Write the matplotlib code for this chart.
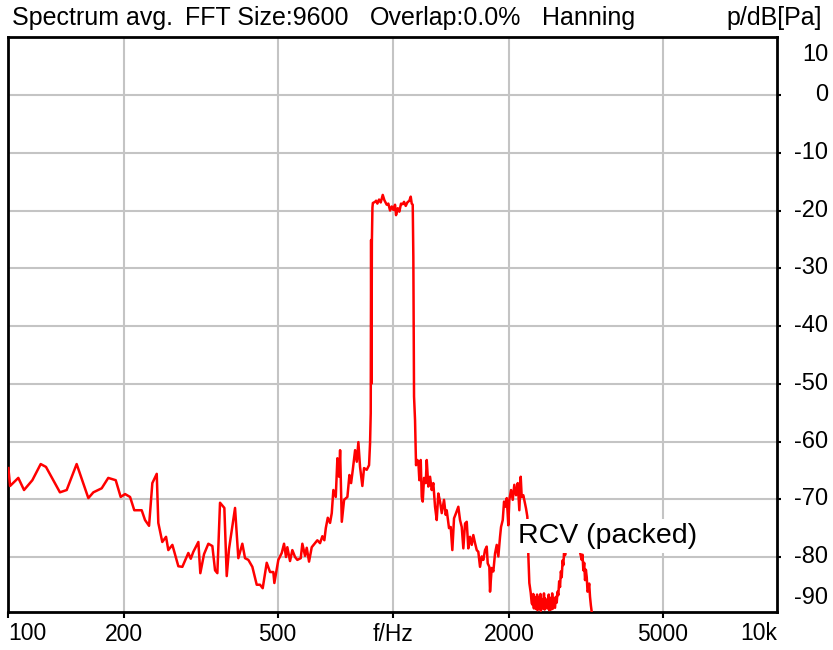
import matplotlib
matplotlib.use('Agg')
import matplotlib.pyplot as plt
import matplotlib.transforms as mtransforms

plt.rcParams['font.family'] = ['Liberation Sans', 'DejaVu Sans']

# Datos: espectro medido (Hz, dB)
freq = [100.0, 101.0, 106.1, 109.8, 115.4, 121.3, 125.2, 136.1, 141.7, 150.4, 161.3, 166.2,
        174.7, 181.7, 190.0, 195.7, 200.9, 207.0, 212.3, 221.9, 226.4, 231.9, 236.5, 242.8,
        245.1, 251.0, 256.7, 260.2, 266.6, 276.3, 283.0, 293.3, 297.6, 302.2, 311.4, 315.1,
        322.2, 330.6, 338.6, 344.1, 348.9, 354.5, 363.8, 369.0, 374.1, 387.8, 395.5, 405.1,
        411.7, 420.0, 430.1, 441.5, 450.3, 457.6, 468.7, 478.1, 487.6, 490.6, 502.4, 512.8,
        519.8, 526.0, 530.2, 538.8, 546.3, 555.2, 562.9, 574.4, 580.0, 589.4, 595.4, 603.7,
        613.5, 625.8, 634.4, 644.8, 653.7, 661.6, 667.3, 675.3, 684.5, 691.5, 698.2, 708.3,
        715.2, 722.5, 726.9, 734.3, 744.5, 759.3, 768.5, 776.3, 784.2, 795.1, 803.2, 810.8,
        819.0, 830.4, 838.8, 852.4, 864.3, 869.5, 873.0, 875.0, 877.0, 879.0, 882.0, 884.2,
        896.0, 901.3, 908.4, 917.6, 926.9, 938.1, 947.1, 960.7, 970.0, 979.9, 989.9, 999.4,
        1009.6, 1015.7, 1026.1, 1035.9, 1046.4, 1057.3, 1065.4, 1076.3, 1086.7, 1099.8, 1108.9,
        1115.6, 1122.3, 1126.4, 1131.1, 1137.9, 1144.7, 1153.7, 1160.6, 1167.6, 1177.3, 1184.4,
        1191.5, 1200.8, 1213.1, 1220.4, 1232.0, 1244.7, 1257.4, 1269.3, 1282.5, 1295.5, 1307.8,
        1321.3, 1335.0, 1353.2, 1367.0, 1375.2, 1394.3, 1408.5, 1422.2, 1436.7, 1454.0, 1474.2,
        1489.2, 1504.4, 1519.0, 1534.5, 1550.1, 1564.8, 1581.0, 1597.1, 1612.3, 1629.1, 1645.7,
        1661.3, 1678.2, 1695.7, 1711.8, 1729.2, 1746.8, 1757.3, 1774.4, 1781.8, 1799.9, 1817.4,
        1835.9, 1854.6, 1872.6, 1891.7, 1903.1, 1922.5, 1937.6, 1957.3, 1969.1, 1987.8, 1999.7,
        2020.5, 2041.0, 2060.4, 2081.4, 2103.1, 2123.0, 2140.7, 2153.5, 2174.4, 2196.6, 2209.8,
        2227.1, 2236.4, 2240.5, 2254.0, 2272.8, 2286.4, 2300.1, 2308.0, 2316.0, 2324.0, 2332.1,
        2344.0, 2355.9, 2361.0, 2367.0, 2373.0, 2378.7, 2391.0, 2403.0, 2409.0, 2415.0, 2421.0,
        2427.5, 2439.0, 2451.1, 2460.0, 2470.0, 2480.0, 2490.9, 2508.0, 2525.0, 2531.0, 2538.0,
        2544.0, 2551.3, 2564.0, 2577.3, 2584.0, 2590.0, 2596.0, 2601.7, 2615.0, 2628.2, 2640.0,
        2655.0, 2668.0, 2680.8, 2694.0, 2708.1, 2722.0, 2735.7, 2750.0, 2762.3, 2776.0, 2790.4,
        2818.9, 2875.2, 2927.3, 2980.4, 3034.4, 3083.7, 3098.0, 3113.0, 3129.0, 3145.1, 3161.0,
        3177.2, 3192.0, 3207.4, 3224.0, 3240.1, 3257.0, 3273.1, 3279.2]
nivel = [-64.6, -67.7, -66.3, -68.4, -66.7, -63.9, -64.4, -68.8, -68.4, -63.9, -69.8, -68.8,
         -68.1, -66.3, -66.7, -69.6, -69.1, -69.6, -71.9, -71.9, -73.6, -74.6, -67.2, -65.6,
         -74.1, -77.4, -76.5, -78.8, -77.9, -81.6, -81.7, -79.3, -80.3, -79.1, -77.4, -82.8,
         -79.5, -77.7, -78.1, -82.3, -82.8, -70.6, -71.5, -83.3, -78.6, -71.5, -80.2, -77.7,
         -80.2, -80.5, -81.7, -84.8, -84.8, -85.4, -81.0, -82.6, -82.6, -84.5, -80.5, -79.3,
         -77.7, -80.0, -78.3, -80.7, -78.8, -80.0, -80.5, -80.2, -77.7, -79.8, -78.4, -80.8,
         -78.3, -77.6, -77.1, -77.6, -76.4, -77.1, -75.0, -73.2, -74.1, -72.4, -68.4, -69.6,
         -62.9, -66.1, -61.5, -73.9, -70.1, -69.6, -65.8, -67.2, -64.9, -61.5, -63.5, -60.1,
         -64.4, -67.7, -64.6, -64.9, -64.1, -60.3, -55.1, -25.1, -50.0, -25.5, -19.5, -18.7,
         -18.5, -18.3, -18.8, -18.1, -18.6, -17.3, -18.2, -19.0, -18.8, -20.0, -19.3, -19.9,
         -19.0, -20.8, -19.6, -20.2, -18.8, -18.9, -18.5, -19.2, -18.6, -18.3, -17.6,
         -18.8, -19.0, -28.0, -52.2, -56.3, -64.1, -63.2, -63.5, -66.7, -63.2, -69.6,
         -70.4, -66.3, -67.2, -63.2, -67.8, -66.1, -68.4, -67.2, -71.3, -73.6, -69.0,
         -70.4, -72.4, -70.1, -72.7, -71.9, -75.0, -74.8, -78.8, -73.3, -72.4, -71.3,
         -73.6, -74.8, -78.5, -74.2, -73.9, -78.5, -76.5, -77.9, -76.2, -77.6, -78.8,
         -79.1, -81.7, -79.9, -80.5, -78.8, -78.2, -81.1, -81.7, -86.0, -81.9, -82.5,
         -79.4, -77.9, -79.9, -76.5, -74.8, -73.6, -70.4, -71.3, -69.8, -74.5, -70.1,
         -68.4, -70.1, -67.5, -69.3, -67.2, -71.9, -66.1, -69.6, -69.3, -70.7, -71.6,
         -73.0, -76.2, -79.7, -84.5, -86.2, -88.0, -88.3, -86.4, -88.9, -86.9, -87.1,
         -89.0, -88.8, -86.5, -89.2, -87.0, -87.8, -89.0, -88.7, -86.4, -89.3, -87.2,
         -87.5, -88.9, -88.8, -86.3, -89.1, -87.2, -87.8, -88.9, -88.7, -86.5, -89.2,
         -87.0, -87.5, -89.1, -88.7, -86.3, -89.0, -87.1, -87.8, -88.6, -88.8, -86.9,
         -87.9, -86.0, -86.6, -84.2, -85.2, -82.5, -83.5, -80.6, -81.4, -78.8, -79.7,
         -78.3, -77.9, -78.6, -77.7, -78.4, -80.5, -79.6, -82.3, -81.0, -84.0, -82.2,
         -83.5, -86.0, -85.7, -84.6, -86.9, -88.4, -89.5, -91.8]

xticks = [100, 200, 500, 1000, 2000, 5000, 10000]
xlabels = ['100', '200', '500', 'f/Hz', '2000', '5000', '10k']
yticks = [10, 0, -10, -20, -30, -40, -50, -60, -70, -80, -90]

titulo = ['Spectrum avg.', 'FFT Size:9600', 'Overlap:0.0%', 'Hanning']
titulo_x = [12, 185, 370, 542]

W, H = 833, 650
fig = plt.figure(figsize=(W / 100, H / 100), dpi=100)
ax = fig.add_axes([8.4 / W, 1 - 611.7 / H, (777.3 - 8.4) / W, (611.7 - 36.7) / H])

ax.plot(freq, nivel, color='red', lw=1.8, zorder=3)
ax.set_xscale('log')
ax.set_xlim(100, 9930)
ax.set_ylim(-89.47, 10.1)

# grid
ax.set_xticks(xticks[:-1])
ax.set_xticks([], minor=True)
ax.set_xticklabels(['', '200', '500', 'f/Hz', '2000', '5000'], fontsize=16.5)
ax.set_yticks(yticks[1:-1])
ax.set_yticklabels([])
ax.grid(True, color='#c4c4c4', lw=1.5, zorder=0)
ax.yaxis.tick_right()
ax.tick_params(axis='y', which='both', direction='out', length=3, width=1.5, color='black')
ax.tick_params(axis='x', which='major', direction='out', length=4, width=1.5, pad=4)
ax.tick_params(axis='x', which='minor', length=0)
for s in ax.spines.values():
    s.set_linewidth(2)
    s.set_color('black')

# x labels at the ends
ax.text(0, -0.018, xlabels[0], transform=ax.transAxes, ha='left', va='top', fontsize=16.5)
ax.text(1, -0.018, xlabels[-1], transform=ax.transAxes, ha='right', va='top', fontsize=16.5)

# y labels on the right
tr = mtransforms.blended_transform_factory(fig.transFigure, ax.transData)
for v in yticks:
    pos = min(max(v, -87.1), 6.9)
    ax.text(828 / W, pos, str(v), transform=tr, ha='right', va='center', fontsize=17)

# title
for t, x in zip(titulo, titulo_x):
    fig.text(x / W, 1 - 18 / H, t, ha='left', va='center', fontsize=18)
fig.text(822 / W, 1 - 18 / H, 'p/dB[Pa]', ha='right', va='center', fontsize=18)

ax.text(2107, -76.4, 'RCV (packed)', fontsize=20.5, ha='left', va='center', zorder=5,
        bbox=dict(facecolor='white', edgecolor='none', pad=3))

fig.savefig('out.png', dpi=100)
